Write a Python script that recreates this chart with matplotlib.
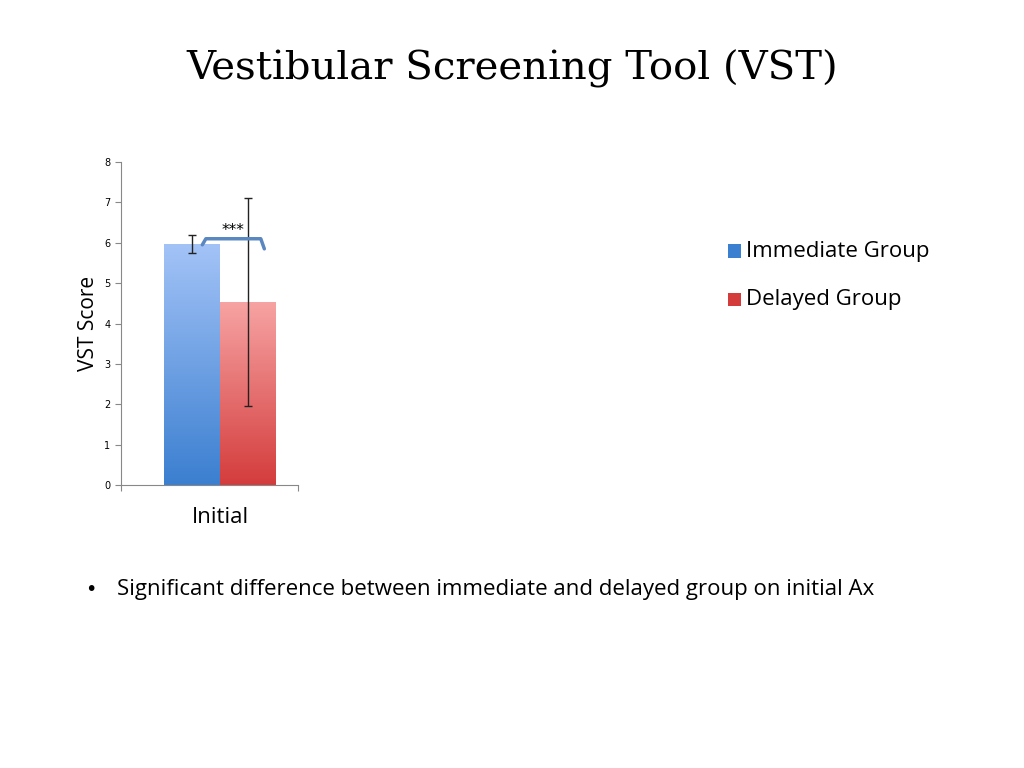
import numpy as np
import matplotlib.pyplot as plt
from matplotlib.colors import LinearSegmentedColormap

groups = ['Immediate Group', 'Delayed Group']
category = 'Initial'
scores = [5.97, 4.53]
errors = [0.22, 2.57]
top_colors = ['#a3c3f7', '#f7a3a3']
bottom_colors = ['#3b7fd0', '#d43c3c']

fig = plt.figure(figsize=(10.24, 7.68), dpi=100, facecolor='w')
fig.text(0.5, 0.911, 'Vestibular Screening Tool (VST)', ha='center', va='center',
         fontsize=29, family='DejaVu Serif')

ax = fig.add_axes([0.118, 0.3685, 0.173, 0.4205])
width = 0.316
xs = [0.56 - width / 2, 0.56 + width / 2]
for i in range(2):
    cmap = LinearSegmentedColormap.from_list('g%d' % i, [bottom_colors[i], top_colors[i]])
    grad = np.linspace(0, 1, 256).reshape(-1, 1)
    ax.imshow(grad, cmap=cmap, origin='lower', aspect='auto', zorder=2,
              extent=(xs[i] - width / 2, xs[i] + width / 2, 0, scores[i]))
    ax.errorbar(xs[i], scores[i], yerr=errors[i], color='#222222', lw=1,
                capsize=3, capthick=1, zorder=3)

# significance bracket
bx0, bx1, by = 0.46, 0.81, 6.1
ax.plot([bx0, bx0 + 0.02, bx1 - 0.02, bx1], [by - 0.15, by, by, by - 0.25],
        color='#5b87c0', lw=2.5, zorder=4, solid_capstyle='round')
ax.text((bx0 + bx1) / 2, by + 0.02, '***', ha='center', va='bottom', fontsize=11)

ax.set_xlim(0, 1)
ax.set_ylim(0, 8)
ax.set_yticks(range(9))
ax.tick_params(axis='y', labelsize=7, length=4, color='#888888')
ax.set_xticks([0, 1])
ax.set_xticklabels([])
ax.tick_params(axis='x', length=4, color='#888888', direction='out')
for s in ['top', 'right']:
    ax.spines[s].set_visible(False)
for s in ['left', 'bottom']:
    ax.spines[s].set_color('#888888')
ax.set_ylabel('VST Score', fontsize=15, family='Open Sans')
ax.text(0.56, -0.1, category, transform=ax.transAxes, ha='center', va='center',
        fontsize=16, family='Open Sans')

# legend
for i, (g, y) in enumerate(zip(groups, [0.673, 0.61])):
    fig.patches.append(plt.Rectangle((0.711, y - 0.009), 0.013, 0.018, transform=fig.transFigure,
                                     facecolor=bottom_colors[i], edgecolor='none'))
    fig.text(0.729, y, g, va='center', fontsize=16, family='Open Sans')

fig.text(0.083, 0.232, '\u2022', va='center', fontsize=14)
fig.text(0.114, 0.232, 'Significant difference between immediate and delayed group on initial Ax',
         va='center', fontsize=16, family='Open Sans')

fig.savefig('out.png', dpi=100)
